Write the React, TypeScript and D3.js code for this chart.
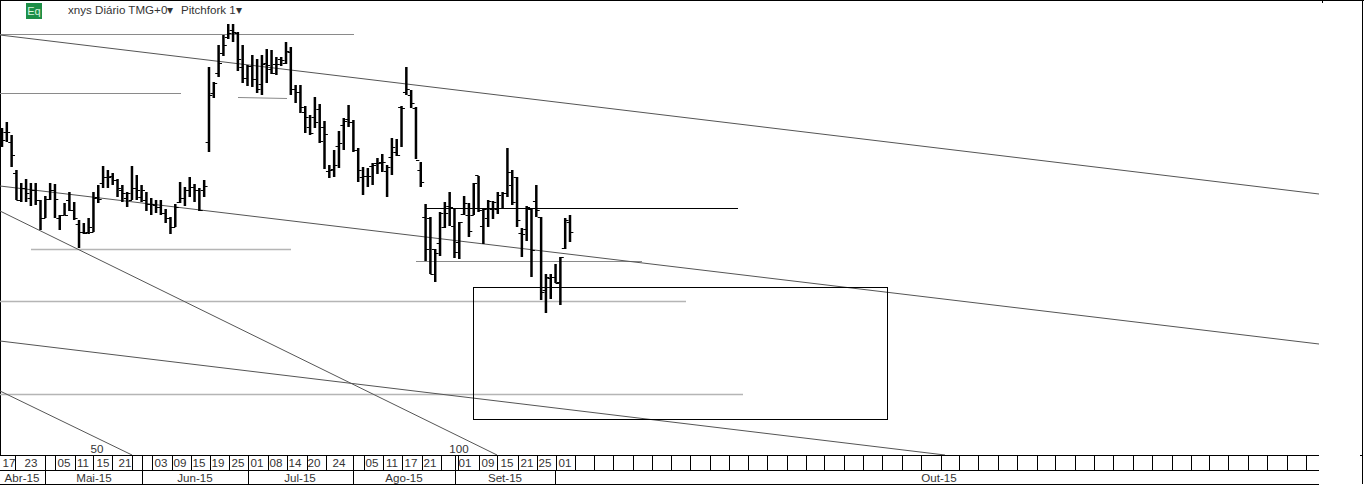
import React from "react";
import * as d3 from "d3";

// OHLC values, on the chart's unlabelled price axis (larger = lower on screen)
const highs = [128,122,135,170,183,179,183,183,200,196,183,184,215,203,192,202,220,223,218,192,185,166,170,173,179,185,192,166,175,185,192,198,200,200,209,217,204,182,187,177,184,188,180,67,82,45,35,24,24,32,45,65,55,59,55,49,50,57,57,42,47,85,85,106,115,97,104,121,165,150,131,118,105,120,148,167,168,163,158,154,165,138,139,106,67,90,107,162,204,217,249,212,202,192,209,222,196,203,183,176,209,200,201,192,192,148,170,177,228,206,209,185,217,274,274,264,257,218,215];
const lows = [147,142,167,200,202,202,206,205,230,218,200,218,230,215,211,220,248,234,234,232,203,188,188,185,197,202,207,200,200,202,211,215,213,215,223,234,227,203,206,197,202,211,197,152,98,77,56,39,42,71,83,86,87,93,95,83,74,75,66,64,95,103,113,133,135,128,143,169,178,177,168,150,127,152,182,195,187,185,174,172,197,175,156,147,95,108,159,187,261,274,282,256,228,226,258,259,215,237,215,212,244,227,219,214,208,197,205,227,257,241,277,217,300,313,299,283,305,249,242];
const opens = [133,132,142,173,200,188,198,190,200,218,199,190,218,215,200,210,224,232,232,232,197,183,177,176,180,190,198,200,188,197,200,204,205,207,213,218,227,202,198,190,187,190,190,142,93,73,53,37,30,33,67,78,66,79,84,63,69,64,59,63,52,89,92,112,127,117,109,127,171,169,146,125,119,122,150,177,176,166,163,162,171,157,152,107,92,95,108,170,217,218,249,243,227,206,226,242,214,215,215,175,226,218,209,209,208,193,185,177,233,229,209,201,217,290,278,277,282,248,222];
const closes = [140,132,155,200,188,193,190,200,218,199,190,199,215,215,210,218,232,233,227,198,199,177,177,180,188,193,193,188,190,190,204,204,207,213,218,227,207,198,190,187,190,210,186,95,83,63,45,33,32,59,78,66,79,89,64,65,73,64,60,51,89,92,107,117,133,122,141,134,170,165,143,121,122,150,170,176,176,165,163,162,167,147,155,108,89,103,160,182,249,274,253,213,213,207,252,222,203,231,183,210,209,201,202,195,193,172,202,220,234,207,250,210,292,277,277,283,257,220,232];

const monthNames = ["Abr-15", "Mai-15", "Jun-15", "Jul-15", "Ago-15", "Set-15", "Out-15"];
const monthLabelX = [22, 94, 195, 300, 404, 505, 939];
const monthDividers = [45, 142, 248, 353, 455, 555];

const dayNames = ["17","23","05","11","15","21","03","09","15","19","25","01","08","14","20","24","05","11","17","21","01","09","15","21","25","01"];
const dayLabelX = [9,31,64,83,103,125,161,180,199,218,238,257,276,295,314,339,372,392,411,430,465,488,507,527,545,565];
const dayDividers = [15,45,55,75,93,112,132,142,152,172,191,210,229,248,268,287,307,326,353,364,383,402,422,441,455,458,479,497,518,537,556,575,594,613,633,652,671,690,710,729,748,767,787,806,824,844,863,882,902,921,941,959,978,998,1017,1037,1055,1075,1094,1113,1133,1152,1172,1191,1209,1228,1248,1267,1287,1306];

const barIndexLabels = ["50", "100"];
const barIndexLabelX = [97, 459];

// Trend lines and levels: [x1, y1, x2, y2]
const forkLines = [[0,35,1319,194],[0,186,1319,344],[0,341,945,455],[0,211,497,455],[0,391,132,455]];
const darkLevels = [[0,34,354,34],[0,93,181,93],[238,97,287,98],[416,261,642,261]];
const wideLevels = [[31,249,291,249],[0,301,686,301],[0,394,743,394]];
const blackLevel = [425,208,738,208];
const zone = [473,287,887,419];

const x = d3.scaleLinear().domain([0, 118]).range([2, 570]);
const y = d3.scaleLinear().domain([0, 485]).range([0, 485]);
const font = "'Liberation Sans', Arial, sans-serif";
const labelSize = 11.6;

export default function App() {
  return (
    <svg width={1364} height={485} style={{ position: "fixed", left: 0, top: 0, background: "#fff", display: "block" }}>
      <line x1={0} x2={1364} y1={0.5} y2={0.5} stroke="#000" />
      <line x1={0.5} x2={0.5} y1={0} y2={455} stroke="#000" />
      <line x1={1362.5} x2={1362.5} y1={0} y2={484} stroke="#000" />
      <line x1={1322.5} x2={1322.5} y1={0} y2={3} stroke="#000" />
      <line x1={1360} x2={1363} y1={455.5} y2={455.5} stroke="#000" />

      <rect x={26} y={3} width={16} height={16} fill="#1d8f47" />
      <text x={34} y={15} textAnchor="middle" fontFamily={font} fontSize={11} fill="#d8f5de">Eq</text>
      <text x={68} y={14} fontFamily={font} fontSize={labelSize} fill="#333">xnys Diário TMG+0▾</text>
      <text x={181} y={14} fontFamily={font} fontSize={labelSize} fill="#333">Pitchfork 1▾</text>

      {darkLevels.map((l, i) => (
        <line key={i} x1={l[0]} y1={y(l[1]) + 0.5} x2={l[2]} y2={y(l[3]) + 0.5} stroke="#8a8a8a" strokeWidth={1} />
      ))}
      {wideLevels.map((l, i) => (
        <line key={i} x1={l[0]} y1={y(l[1]) + 0.5} x2={l[2]} y2={y(l[3]) + 0.5} stroke="#b5b5b5" strokeWidth={1.6} />
      ))}
      {forkLines.map((l, i) => (
        <line key={i} x1={l[0]} y1={y(l[1])} x2={l[2]} y2={y(l[3])} stroke="#555" strokeWidth={1} />
      ))}
      <line x1={blackLevel[0]} y1={y(blackLevel[1]) + 0.5} x2={blackLevel[2]} y2={y(blackLevel[3]) + 0.5} stroke="#000" />
      <rect x={zone[0] + 0.5} y={y(zone[1]) + 0.5} width={zone[2] - zone[0]} height={y(zone[3]) - y(zone[1])} fill="none" stroke="#000" />

      {highs.map((h, i) => {
        const cx = x(i);
        return (
          <g key={i} stroke="#000">
            <line x1={cx} x2={cx} y1={y(h)} y2={y(lows[i])} strokeWidth={2.5} />
            <line x1={cx - 3.4} x2={cx} y1={y(opens[i]) + 0.5} y2={y(opens[i]) + 0.5} strokeWidth={1} />
            <line x1={cx} x2={cx + 3.4} y1={y(closes[i]) + 0.5} y2={y(closes[i]) + 0.5} strokeWidth={1} />
          </g>
        );
      })}

      {barIndexLabels.map((t, i) => (
        <text key={t} x={barIndexLabelX[i]} y={453} textAnchor="middle" fontFamily={font} fontSize={labelSize} fill="#333">{t}</text>
      ))}

      <line x1={0} x2={1319} y1={455.5} y2={455.5} stroke="#000" />
      <line x1={0} x2={1319} y1={470.5} y2={470.5} stroke="#000" />
      <line x1={0} x2={1319} y1={484.5} y2={484.5} stroke="#000" />
      {dayDividers.map((d, i) => (
        <line key={i} x1={d + 0.5} x2={d + 0.5} y1={455} y2={471} stroke="#000" />
      ))}
      {monthDividers.map((d, i) => (
        <line key={i} x1={d + 0.5} x2={d + 0.5} y1={471} y2={485} stroke="#000" />
      ))}
      {dayNames.map((t, i) => (
        <text key={i} x={dayLabelX[i]} y={467} textAnchor="middle" fontFamily={font} fontSize={labelSize} fill="#333">{t}</text>
      ))}
      {monthNames.map((t, i) => (
        <text key={t} x={monthLabelX[i]} y={482} textAnchor="middle" fontFamily={font} fontSize={labelSize} fill="#333">{t}</text>
      ))}
    </svg>
  );
}
